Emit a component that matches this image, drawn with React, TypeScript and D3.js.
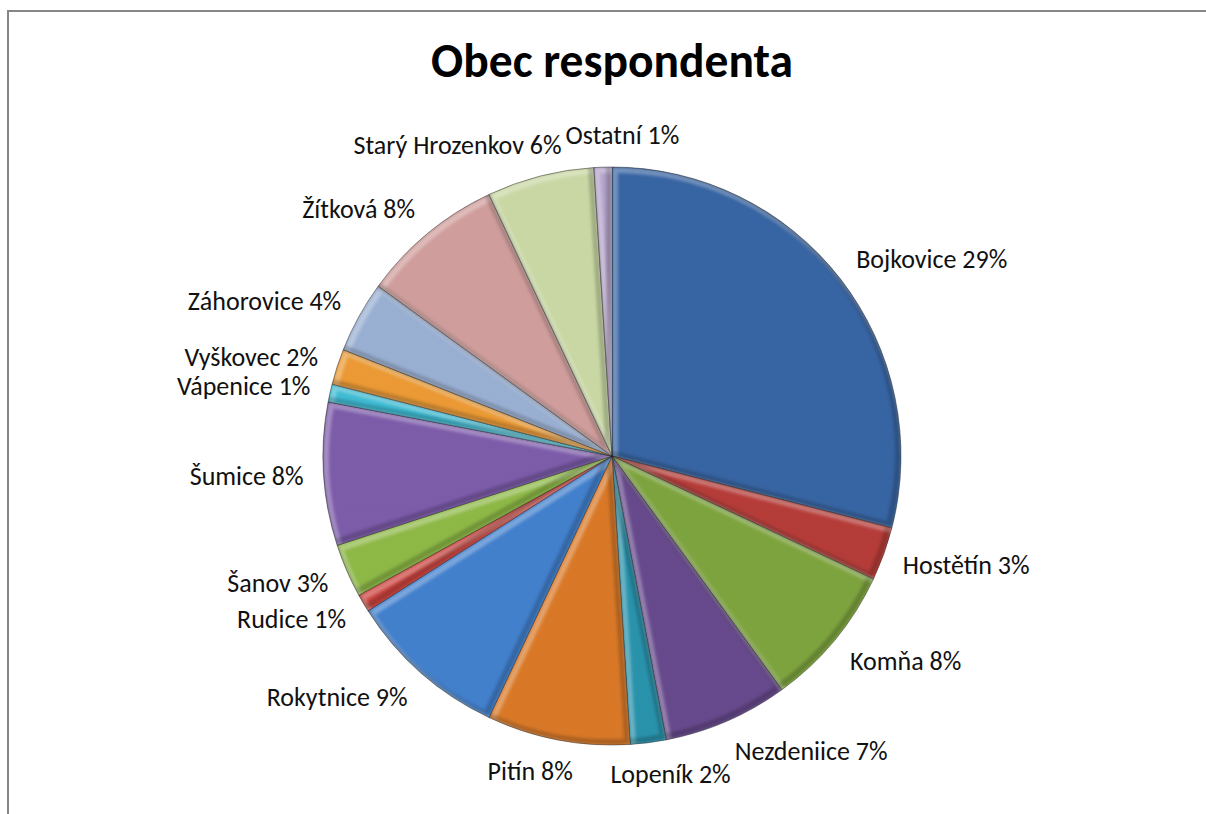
import React, { useEffect, useRef } from "react";
import * as d3 from "d3";

const TITLE = "Obec respondenta";
const CATEGORIES = [
  "Bojkovice",
  "Hostětín",
  "Komňa",
  "Nezdeniice",
  "Lopeník",
  "Pitín",
  "Rokytnice",
  "Rudice",
  "Šanov",
  "Šumice",
  "Vápenice",
  "Vyškovec",
  "Záhorovice",
  "Žítková",
  "Starý Hrozenkov",
  "Ostatní",
];
const VALUES = [29, 3, 8, 7, 2, 8, 9, 1, 3, 8, 1, 2, 4, 8, 6, 1];
const PALETTE = [
  "#3a6aac",
  "#c0403c",
  "#85ad42",
  "#6d4e95",
  "#2c9bb6",
  "#e6802a",
  "#4688d9",
  "#d84742",
  "#96c44a",
  "#8461b4",
  "#42c7e0",
  "#f9a337",
  "#a3badf",
  "#dca7a5",
  "#d5e5ad",
  "#bfadd7",
];

const W = 1206;
const H = 814;

export default function App() {
  const ref = useRef<SVGSVGElement>(null);

  useEffect(() => {
    const svg = d3.select(ref.current as SVGSVGElement);
    svg.selectAll("*").remove();

    const cx = 612;
    const cy = 456;
    const R = 289;
    const fontFamily = "Carlito, Calibri, Lato, 'Open Sans', sans-serif";

    svg.append("rect").attr("width", W).attr("height", H).attr("fill", "#fff");

    // frame: top and left edges only
    svg
      .append("line")
      .attr("x1", 7)
      .attr("x2", W)
      .attr("y1", 11)
      .attr("y2", 11)
      .attr("stroke", "#868686")
      .attr("stroke-width", 2);
    svg
      .append("line")
      .attr("x1", 8)
      .attr("x2", 8)
      .attr("y1", 10)
      .attr("y2", H)
      .attr("stroke", "#868686")
      .attr("stroke-width", 2);

    // title
    svg
      .append("text")
      .attr("x", cx)
      .attr("y", 77)
      .attr("text-anchor", "middle")
      .attr("font-family", fontFamily)
      .attr("font-weight", "bold")
      .attr("font-size", 47.5)
      .attr("fill", "#000")
      .text(TITLE);

    const defs = svg.append("defs");
    const blur = defs
      .append("filter")
      .attr("id", "bvblur")
      .attr("x", "-10%")
      .attr("y", "-10%")
      .attr("width", "120%")
      .attr("height", "120%");
    blur.append("feGaussianBlur").attr("stdDeviation", 1.8);

    const rim = defs
      .append("radialGradient")
      .attr("id", "rimShade")
      .attr("gradientUnits", "userSpaceOnUse")
      .attr("cx", cx)
      .attr("cy", cy)
      .attr("r", R);
    rim.append("stop").attr("offset", "0%").attr("stop-color", "#fff").attr("stop-opacity", 0.05);
    rim.append("stop").attr("offset", "85%").attr("stop-color", "#000").attr("stop-opacity", 0.0);
    rim.append("stop").attr("offset", "100%").attr("stop-color", "#000").attr("stop-opacity", 0.06);

    const pie = d3
      .pie<number>()
      .sort(null)
      .value((d) => d)
      .startAngle(0)
      .endAngle(2 * Math.PI);
    const arcs = pie(VALUES);
    const arcGen = d3.arc<d3.PieArcDatum<number>>().innerRadius(0).outerRadius(R);

    const g = svg.append("g").attr("transform", `translate(${cx},${cy})`);

    arcs.forEach((a, i) => {
      const d = arcGen(a) as string;
      defs.append("clipPath").attr("id", `clip${i}`).append("path").attr("d", d);
      const sg = g.append("g");
      sg.append("path").attr("d", d).attr("fill", PALETTE[i]);
      const inner = sg.append("g").attr("clip-path", `url(#clip${i})`);
      inner.append("path").attr("d", d).attr("fill", "url(#rimShade)");
      inner
        .append("path")
        .attr("d", d)
        .attr("transform", "translate(3,3)")
        .attr("fill", "none")
        .attr("stroke", "#fff")
        .attr("stroke-opacity", 0.3)
        .attr("stroke-width", 6)
        .attr("filter", "url(#bvblur)");
      inner
        .append("path")
        .attr("d", d)
        .attr("transform", "translate(-3,-3)")
        .attr("fill", "none")
        .attr("stroke", "#000")
        .attr("stroke-opacity", 0.2)
        .attr("stroke-width", 6)
        .attr("filter", "url(#bvblur)");
      sg.append("path")
        .attr("d", d)
        .attr("fill", "none")
        .attr("stroke", "#1a1a1a")
        .attr("stroke-opacity", 0.45)
        .attr("stroke-width", 1);
    });

    // labels
    const total = d3.sum(VALUES);
    const pad = 20;
    const fs = 26;
    const lh = 24;
    const boxes: { x: number; y: number; w: number; h: number }[] = [];
    const lg = svg.append("g");
    arcs.forEach((a, i) => {
      const theta = (a.startAngle + a.endAngle) / 2;
      const s = Math.sin(theta);
      const c = Math.cos(theta);
      const px = cx + (R + pad) * s;
      const py = cy - (R + pad) * c;
      const pct = Math.round((VALUES[i] / total) * 100);
      const t = lg
        .append("text")
        .attr("font-family", fontFamily)
        .attr("font-size", fs)
        .attr("fill", "#111")
        .attr("text-anchor", "middle")
        .attr("dominant-baseline", "central")
        .text(`${CATEGORIES[i]} ${pct}%`);
      const w = (t.node() as SVGTextElement).getComputedTextLength();
      const kx = Math.max(-1, Math.min(1, s * 3));
      let mx = px + (kx * w) / 2;
      const my = py - (c * lh) / 2;
      for (const b of boxes) {
        const minDx = (w + b.w) / 2 + 4;
        if (Math.abs(mx - b.x) < minDx && Math.abs(my - b.y) < (lh + b.h) / 2) {
          mx = mx >= b.x ? b.x + minDx : b.x - minDx;
        }
      }
      boxes.push({ x: mx, y: my, w, h: lh });
      t.attr("x", mx).attr("y", my);
    });
  }, []);

  return (
    <svg
      ref={ref}
      width={W}
      height={H}
      style={{ position: "fixed", left: 0, top: 0, display: "block" }}
    />
  );
}
